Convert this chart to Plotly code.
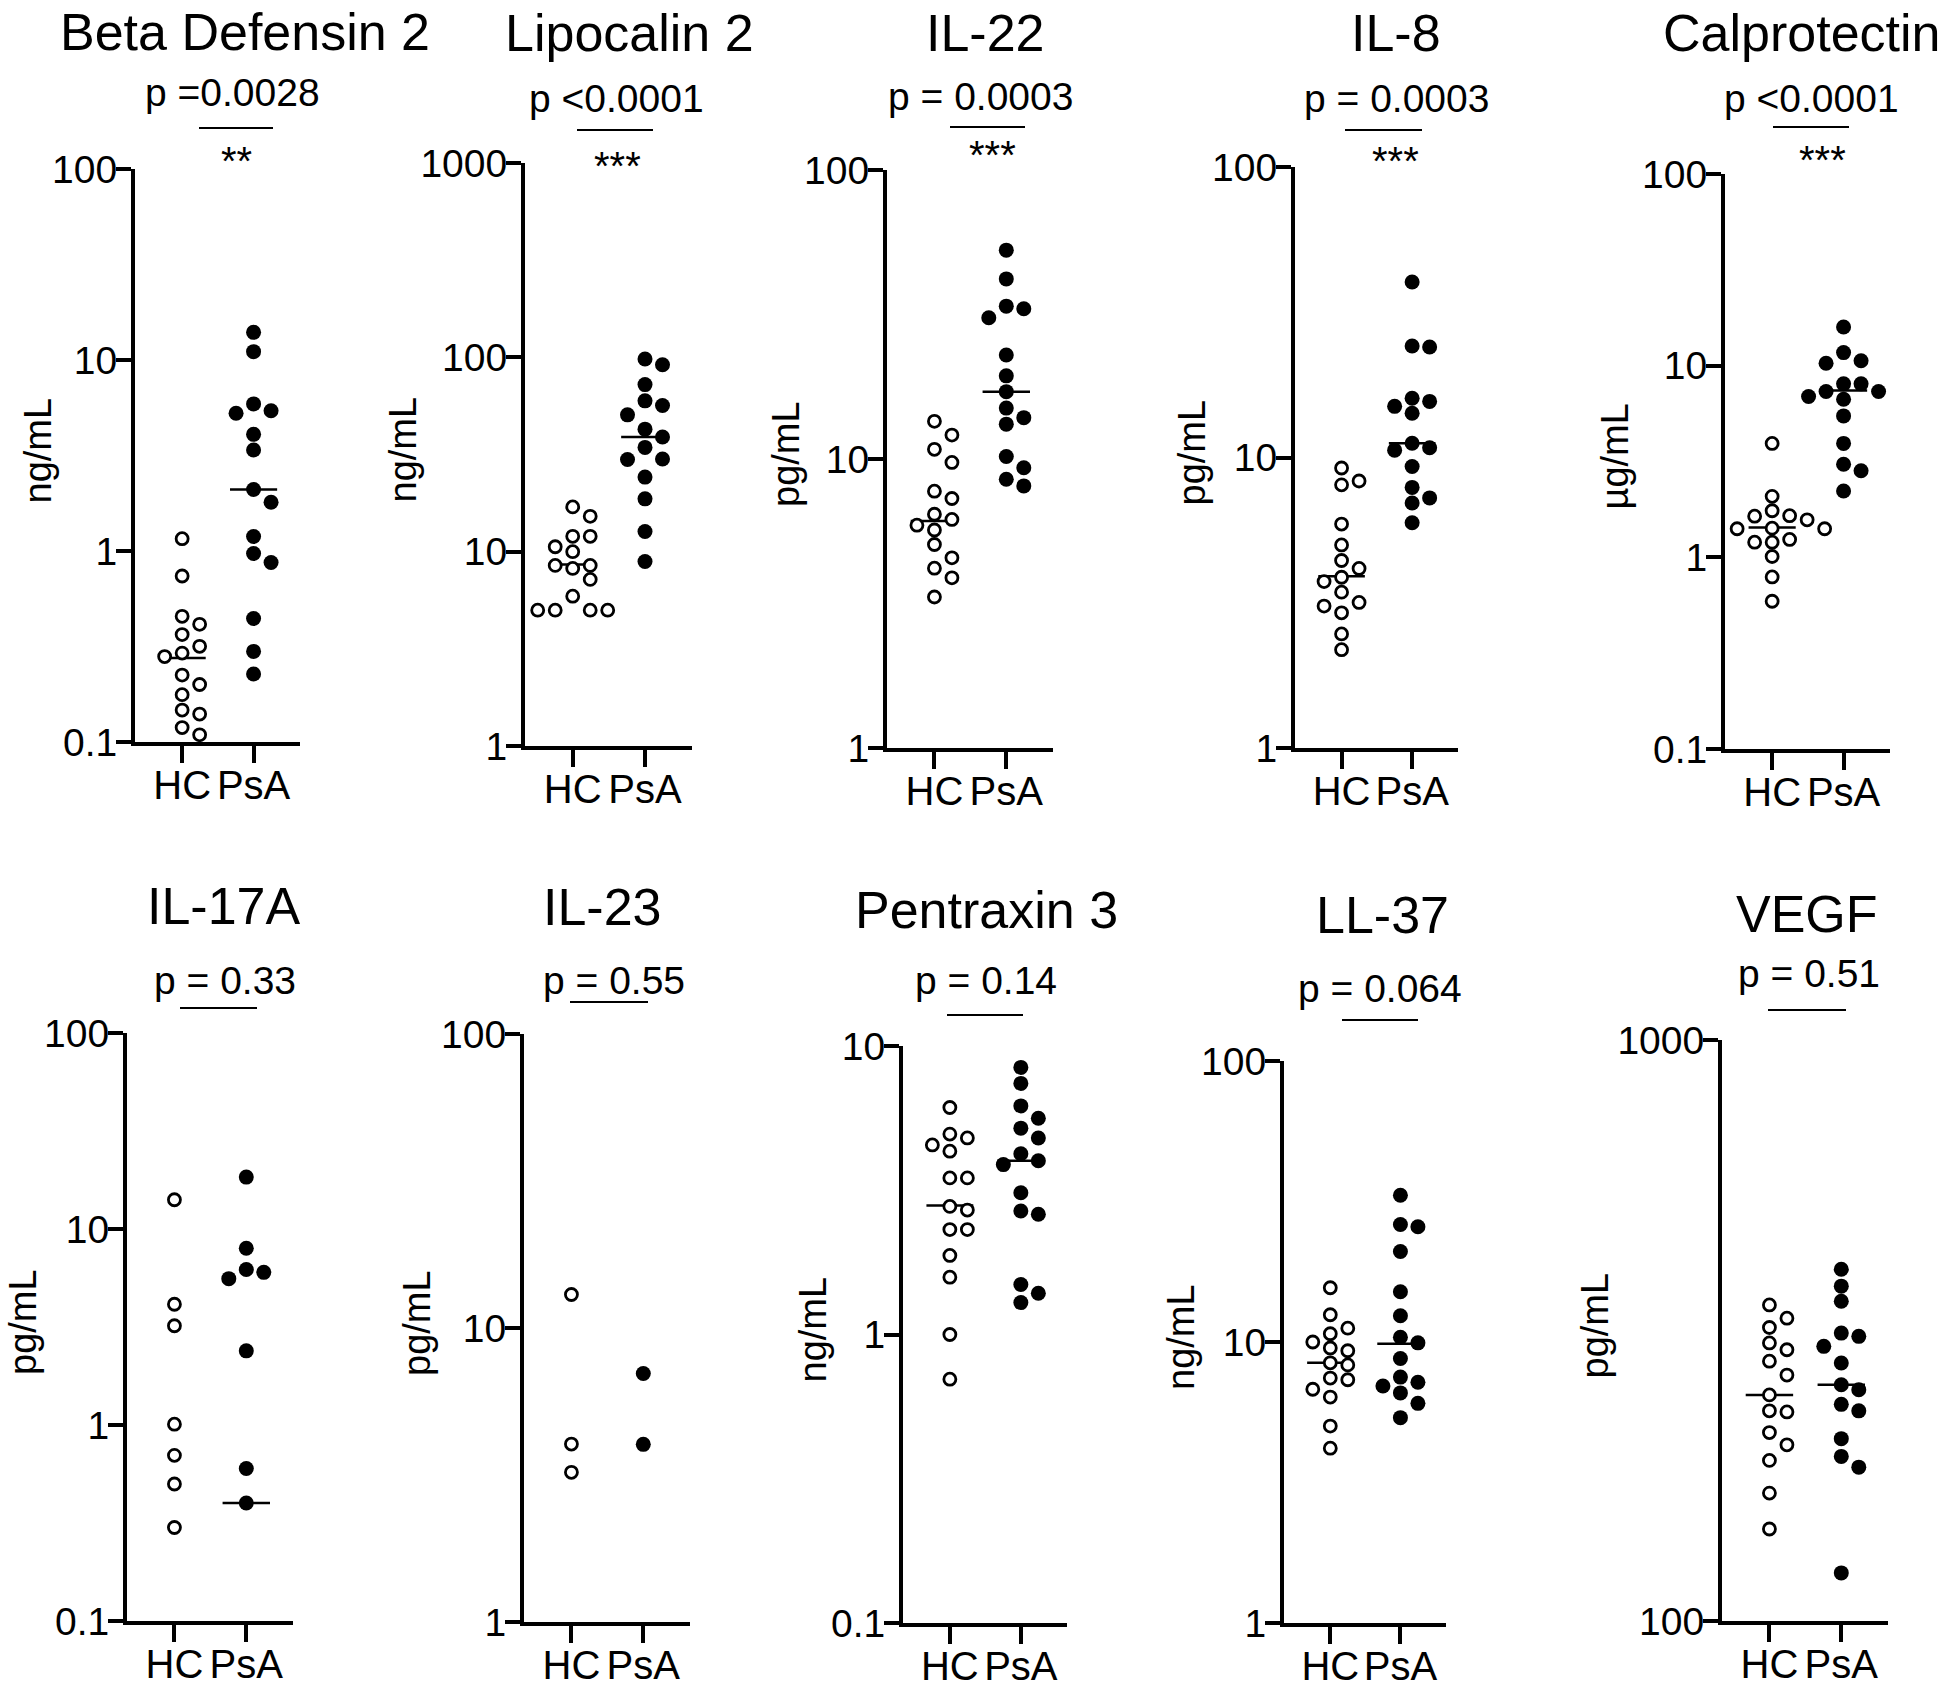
import numpy as np
import plotly.graph_objects as go

# ---------------- data ----------------
TITLES = ["Beta Defensin 2", "Lipocalin 2", "IL-22", "IL-8", "Calprotectin",
          "IL-17A", "IL-23", "Pentraxin 3", "LL-37", "VEGF"]
UNITS = ["ng/mL", "ng/mL", "pg/mL", "pg/mL", "µg/mL",
         "pg/mL", "pg/mL", "ng/mL", "ng/mL", "pg/mL"]
P_TEXT = ["p =0.0028", "p &lt;0.0001", "p = 0.0003", "p = 0.0003", "p &lt;0.0001",
          "p = 0.33", "p = 0.55", "p = 0.14", "p = 0.064", "p = 0.51"]
STARS = ["**", "***", "***", "***", "***", "", "", "", "", ""]
GROUPS = ["HC", "PsA"]

TICKS = [[0.1, 1, 10, 100], [1, 10, 100, 1000], [1, 10, 100], [1, 10, 100],
         [0.1, 1, 10, 100], [0.1, 1, 10, 100], [1, 10, 100], [0.1, 1, 10],
         [1, 10, 100], [100, 1000]]
TICK_TEXT = [["0.1", "1", "10", "100"], ["1", "10", "100", "1000"], ["1", "10", "100"],
             ["1", "10", "100"], ["0.1", "1", "10", "100"], ["0.1", "1", "10", "100"],
             ["1", "10", "100"], ["0.1", "1", "10"], ["1", "10", "100"], ["100", "1000"]]

BD2_HC = [1.16, 0.74, 0.455, 0.413, 0.365, 0.317, 0.292, 0.280, 0.224, 0.200,
          0.177, 0.147, 0.140, 0.119, 0.109]
BD2_PSA = [13.96, 11.06, 5.89, 5.42, 5.26, 4.08, 3.38, 2.10, 1.80, 1.19, 0.97,
           0.87, 0.443, 0.298, 0.227]
LCN2_HC = [17.0, 15.2, 12.0, 12.0, 10.6, 10.0, 8.5, 8.5, 8.2, 7.2, 5.9, 5.0, 5.0,
           5.0, 5.0]
LCN2_PSA = [98.0, 91.6, 72.4, 59.7, 56.5, 50.6, 42.7, 38.9, 34.4, 30.0, 29.8,
            24.2, 18.7, 12.7, 8.9]
IL22_HC = [13.5, 12.1, 10.8, 9.73, 7.74, 7.30, 6.44, 6.18, 5.90, 5.68, 5.06,
           4.55, 4.19, 3.88, 3.33]
IL22_PSA = [52.8, 42.0, 33.8, 33.1, 30.8, 22.9, 19.4, 17.1, 15.0, 13.9, 13.2,
            10.2, 9.33, 8.51, 8.07]
IL8_HC = [9.2, 8.3, 8.05, 5.9, 5.0, 4.42, 4.15, 3.87, 3.74, 3.44, 3.17, 3.08,
          2.92, 2.47, 2.18]
IL8_PSA = [40.2, 24.2, 24.0, 16.0, 15.6, 15.0, 14.2, 11.2, 10.8, 10.6, 9.31,
           7.89, 7.26, 6.97, 5.96]
CALP_HC = [3.93, 2.08, 1.75, 1.65, 1.64, 1.57, 1.42, 1.41, 1.41, 1.24, 1.2, 1.2,
           1.01, 0.79, 0.59]
CALP_PSA = [15.9, 11.7, 10.6, 10.3, 8.04, 8.04, 7.33, 7.33, 6.9, 6.68, 5.47,
            3.93, 3.06, 2.83, 2.22]
IL17_HC = [14.1, 4.13, 3.21, 1.01, 0.70, 0.50, 0.30]
IL17_PSA = [18.4, 7.98, 6.21, 6.01, 5.58, 2.39, 0.60, 0.40]
IL23_HC = [13.0, 4.03, 3.23]
IL23_PSA = [7.0, 4.02]
PTX3_HC = [6.12, 4.95, 4.80, 4.54, 4.32, 3.49, 3.49, 2.78, 2.70, 2.31, 2.31,
           1.88, 1.58, 1.0, 0.70]
PTX3_PSA = [8.43, 7.42, 6.20, 5.62, 5.19, 4.80, 4.23, 4.0, 3.88, 3.10, 2.68,
            2.61, 1.49, 1.39, 1.29]
LL37_HC = [15.6, 12.5, 11.2, 10.7, 10.0, 9.52, 9.31, 8.43, 8.29, 7.44, 7.34,
           6.79, 6.37, 5.02, 4.19]
LL37_PSA = [33.3, 26.2, 25.7, 21.0, 15.1, 12.4, 10.4, 9.93, 8.73, 7.50, 7.19,
            6.97, 6.59, 6.05, 5.38]
VEGF_HC = [350, 332, 320, 301, 293, 280, 265, 245, 230, 229, 211, 201, 189, 166, 144]
VEGF_PSA = [403, 377, 355, 313, 309, 297, 278, 255, 250, 236, 230, 206, 192, 184, 121]

HC_VALUES = [BD2_HC, LCN2_HC, IL22_HC, IL8_HC, CALP_HC, IL17_HC, IL23_HC,
             PTX3_HC, LL37_HC, VEGF_HC]
PSA_VALUES = [BD2_PSA, LCN2_PSA, IL22_PSA, IL8_PSA, CALP_PSA, IL17_PSA, IL23_PSA,
              PTX3_PSA, LL37_PSA, VEGF_PSA]
HC_MEDIAN = [0.275, 8.6, 6.1, 3.9, 1.43, None, None, 2.8, 8.43, 245]
PSA_MEDIAN = [2.10, 38.9, 17.1, 11.2, 7.42, 0.40, None, 4.0, 9.85, 255]

# ---------------- layout (pixels of the 1946 x 1688 page) ----------------
W, H = 1946, 1688
FONT = "Liberation Sans, Arial, Helvetica, sans-serif"
XBOX = [(135, 300), (525, 692), (887, 1053), (1295, 1458), (1725, 1890),
        (127, 293), (524, 690), (903, 1067), (1284, 1446), (1722, 1888)]
YBOX = [(169, 742), (163, 746), (170, 748), (167, 748), (174, 749),
        (1033, 1621), (1034, 1622), (1046, 1623), (1061, 1623), (1040, 1621)]
XR = [0.34, 2.65]
TITLE_POS = [(245, 32), (629, 33), (985, 33), (1396, 33), (1801, 33),
             (224, 906), (602, 907), (987, 910), (1382, 915), (1807, 914)]
P_POS = [(232, 93), (616, 99), (980, 97), (1396, 99), (1811, 99),
         (225, 980), (614, 980), (986, 980), (1380, 988), (1809, 973)]
SIG_LINE = [(199, 273, 128), (577, 653, 130), (950, 1025, 127), (1345, 1422, 130),
            (1773, 1849, 127), (180, 257, 1008), (570, 648, 1002), (947, 1023, 1015),
            (1342, 1418, 1020), (1768, 1846, 1010)]
STAR_POS = [(236, 161), (617, 166), (992, 155), (1395, 161), (1822, 160)]
YLAB_X = [37, 402, 786, 1191, 1614, 23, 417, 812, 1181, 1594]


def px(xp):
    return xp / W


def py(yp):
    return 1 - yp / H


def swarm(vals, center, i, step_px=17.5, dmin=14.0):
    x0, x1 = XBOX[i]
    y0, y1 = YBOX[i]
    lo, hi = np.log10(TICKS[i][0]), np.log10(TICKS[i][-1])
    ppu = (x1 - x0) / (XR[1] - XR[0])
    ypix = [y0 + (hi - np.log10(v)) / (hi - lo) * (y1 - y0) for v in vals]
    order = sorted(range(len(vals)), key=lambda k: ypix[k])
    placed = []
    xs = [center] * len(vals)
    for k in order:
        for slot in [0, 1, -1, 2, -2, 3, -3]:
            if all(not (s == slot and abs(yy - ypix[k]) < dmin) for s, yy in placed):
                break
        placed.append((slot, ypix[k]))
        xs[k] = center + slot * step_px / ppu
    return xs


fig = go.Figure()
annotations = []
shapes = []
layout_axes = {}

for i in range(10):
    n = i + 1
    xa = "x" if n == 1 else f"x{n}"
    ya = "y" if n == 1 else f"y{n}"
    lo, hi = np.log10(TICKS[i][0]), np.log10(TICKS[i][-1])
    x0, x1 = XBOX[i]
    y0, y1 = YBOX[i]
    layout_axes["xaxis" if n == 1 else f"xaxis{n}"] = dict(
        domain=[px(x0), px(x1)], range=XR, anchor=ya, automargin=False,
        tickmode="array", tickvals=[1, 2], ticktext=GROUPS,
        ticks="outside", ticklen=17, tickwidth=4, tickcolor="black",
        showline=True, linewidth=4, linecolor="black",
        showgrid=False, zeroline=False, ticklabelstandoff=-12,
        tickfont=dict(family=FONT, size=40, color="black"))
    layout_axes["yaxis" if n == 1 else f"yaxis{n}"] = dict(
        domain=[py(y1), py(y0)], type="log", range=[lo, hi], anchor=xa,
        automargin=False,
        tickmode="array", tickvals=TICKS[i], ticktext=TICK_TEXT[i],
        ticks="outside", ticklen=15, tickwidth=4, tickcolor="black",
        showline=True, linewidth=4, linecolor="black",
        showgrid=False, zeroline=False, ticklabelstandoff=-9,
        tickfont=dict(family=FONT, size=39, color="black"))

    for g, (vals, med, filled) in enumerate([(HC_VALUES[i], HC_MEDIAN[i], False),
                                            (PSA_VALUES[i], PSA_MEDIAN[i], True)]):
        c = g + 1
        if med is not None:
            fig.add_trace(go.Scatter(x=[c - 0.33, c + 0.33], y=[med, med], mode="lines",
                                     line=dict(color="black", width=2.5),
                                     xaxis=xa, yaxis=ya, showlegend=False,
                                     hoverinfo="skip", cliponaxis=False))
        xs = swarm(vals, c, i)
        if filled:
            mk = dict(symbol="circle", size=15, color="black", line=dict(width=0))
        else:
            mk = dict(symbol="circle", size=12, color="white",
                      line=dict(color="black", width=2.8))
        fig.add_trace(go.Scatter(x=xs, y=vals, mode="markers", marker=mk,
                                 xaxis=xa, yaxis=ya, showlegend=False,
                                 cliponaxis=False, name=GROUPS[g]))

    tx, ty = TITLE_POS[i]
    annotations.append(dict(text=TITLES[i], x=px(tx), y=py(ty), xref="paper", yref="paper",
                            xanchor="center", yanchor="middle", showarrow=False,
                            font=dict(family=FONT, size=52, color="black")))
    ptx, pty = P_POS[i]
    annotations.append(dict(text=P_TEXT[i], x=px(ptx), y=py(pty), xref="paper", yref="paper",
                            xanchor="center", yanchor="middle", showarrow=False,
                            font=dict(family=FONT, size=39, color="black")))
    if STARS[i]:
        sx, sy = STAR_POS[i]
        annotations.append(dict(text=STARS[i], x=px(sx), y=py(sy), xref="paper", yref="paper",
                                xanchor="center", yanchor="middle", showarrow=False,
                                font=dict(family=FONT, size=40, color="black")))
    annotations.append(dict(text=UNITS[i], x=px(YLAB_X[i]), y=py((y0 + y1) / 2 - 5),
                            xref="paper", yref="paper", textangle=-90,
                            xanchor="center", yanchor="middle", showarrow=False,
                            font=dict(family=FONT, size=38, color="black")))
    lx0, lx1, ly = SIG_LINE[i]
    shapes.append(dict(type="line", xref="paper", yref="paper",
                       x0=px(lx0), x1=px(lx1), y0=py(ly), y1=py(ly),
                       line=dict(color="black", width=2)))

fig.update_layout(width=W, height=H, margin=dict(l=0, r=0, t=0, b=0, autoexpand=False),
                  paper_bgcolor="white", plot_bgcolor="white",
                  font=dict(family=FONT, color="black"),
                  annotations=annotations, shapes=shapes, showlegend=False,
                  **layout_axes)

fig.write_html("out.html", config={"displayModeBar": False},
               post_script="document.body.style.margin='0px';")
